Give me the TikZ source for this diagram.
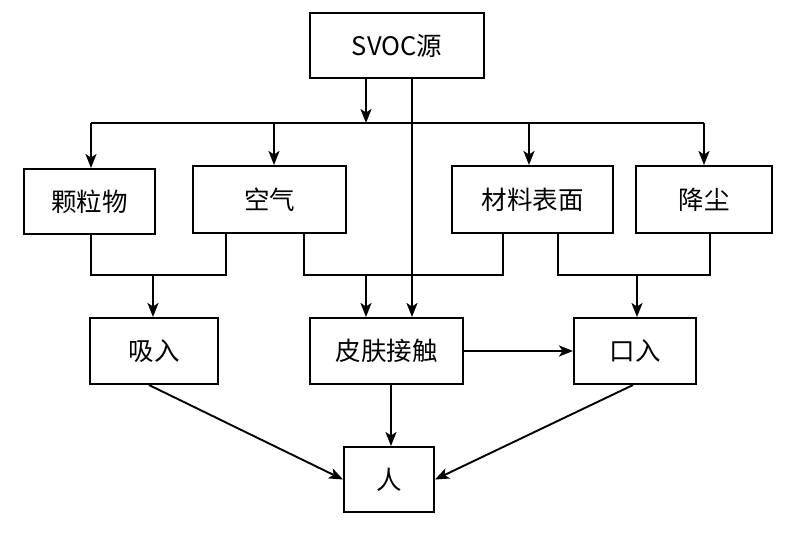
\documentclass[tikz,border=0pt]{standalone}
\usepackage{fontspec}
\newfontfamily\cjk{Noto Sans CJK SC}
\usetikzlibrary{arrows.meta,calc}
\tikzset{
  box/.style={draw, line width=2pt, rectangle, inner sep=0pt, font=\cjk\fontsize{25.5}{30}\selectfont},
  ln/.style={line width=1.9pt},
  arr/.style={line width=1.9pt, -{Stealth[length=14pt,width=11pt,inset=3.5pt]}}
}
\begin{document}
\begin{tikzpicture}[x=1pt,y=-1pt]
\useasboundingbox (0,0) rectangle (800,542);
\node[box, minimum width=174pt, minimum height=65pt] (svoc) at (397,45.5) {SVOC源};
\node[box, minimum width=131pt, minimum height=65pt] (klw) at (89.5,201.5) {颗粒物};
\node[box, minimum width=153pt, minimum height=67pt] (kq) at (269.5,199.5) {空气};
\node[box, minimum width=161pt, minimum height=67pt] (clbm) at (532.5,199.5) {材料表面};
\node[box, minimum width=136pt, minimum height=67pt] (jc) at (704,199.5) {降尘};
\node[box, minimum width=128pt, minimum height=66pt] (xr) at (154,351) {吸入};
\node[box, minimum width=153pt, minimum height=66pt] (pf) at (386.5,351) {皮肤接触};
\node[box, minimum width=122pt, minimum height=66pt] (kr) at (635,351) {口入};
\node[box, minimum width=90pt, minimum height=65pt] (ren) at (389,479.5) {人};

\coordinate (b0) at (366,123);
\coordinate (bL) at (91,123);
\coordinate (bR) at (704,123);
\coordinate (m1) at (153,275);
\coordinate (m2) at (366,275);
\coordinate (m3) at (637,275);

% source to bus
\draw[arr] (svoc.south -| b0) -- (b0);
\draw[ln] (bL) -- (bR);
\draw[arr] (bL) -- (klw.north -| bL);
\draw[arr] (274,123) -- (kq.north -| 274,0);
\draw[arr] (529,123) -- (clbm.north -| 529,0);
\draw[arr] (bR) -- (jc.north -| bR);
% source direct to skin contact
\draw[arr] (svoc.south -| 412,0) -- (pf.north -| 412,0);

% merges
\draw[ln] (klw.south -| 91,0) |- (226,275) -- (kq.south -| 226,0);
\draw[arr] (m1) -- (xr.north -| m1);
\draw[ln] (kq.south -| 304,0) |- (503,275) -- (clbm.south -| 503,0);
\draw[arr] (m2) -- (pf.north -| m2);
\draw[ln] (clbm.south -| 558,0) |- (710,275) -- (jc.south -| 710,0);
\draw[arr] (m3) -- (kr.north -| m3);

% lower row
\draw[arr] (pf.east) -- (kr.west);
\draw[arr] (xr.south -| 149,0) -- (ren.west);
\draw[arr] (pf.south -| 391,0) -- (ren.north -| 391,0);
\draw[arr] (kr.south -| 633,0) -- (ren.east);
\end{tikzpicture}
\end{document}
